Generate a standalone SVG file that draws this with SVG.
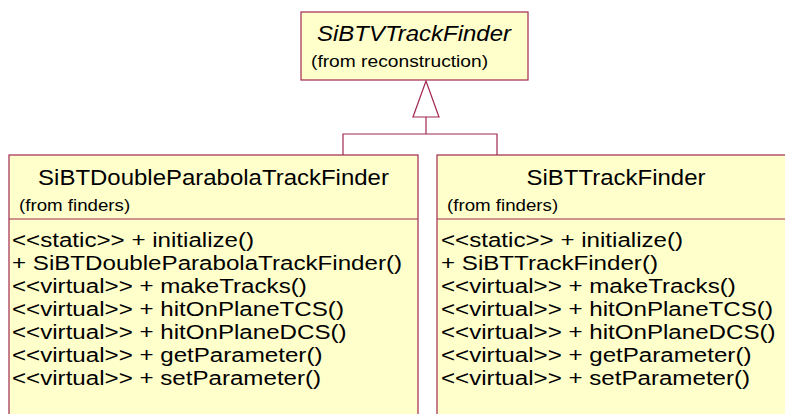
<svg xmlns="http://www.w3.org/2000/svg" width="785" height="414" viewBox="0 0 785 414">
<style>
.box{fill:#FFFFCC;stroke:#A0284E;stroke-width:1.2}
.sep{stroke:#A0284E;stroke-width:1.2}
.conn{fill:none;stroke:#A0284E;stroke-width:1.2}
text{font-family:"Liberation Sans",Arial,sans-serif;fill:#000}
.title{font-size:22px;text-anchor:middle}
.it{font-style:italic}
.from{font-size:17px}
.mem{font-size:21px}
</style>
<rect width="785" height="414" fill="#FFFFFF"/>
<g id="connectors">
<polygon class="conn" points="426,81 413,117 439,117" fill="#FFFFFF"/>
<polyline class="conn" points="426,117 426,134"/>
<polyline class="conn" points="343,155 343,134 497,134 497,155"/>
</g>
<g id="SiBTVTrackFinder">
<rect class="box" x="301" y="12" width="227" height="68"/>
<text class="title it" transform="translate(414,41) scale(1.09,1)">SiBTVTrackFinder</text>
<text class="from" transform="translate(311,67) scale(1.13,1)">(from reconstruction)</text>
</g>
<g id="SiBTDoubleParabolaTrackFinder">
<rect class="box" x="9" y="155" width="409" height="270"/>
<line class="sep" x1="9" y1="219" x2="418" y2="219"/>
<text class="title" transform="translate(213.5,185) scale(1.09,1)">SiBTDoubleParabolaTrackFinder</text>
<text class="from" transform="translate(19,211) scale(1.1,1)">(from finders)</text>
<text class="mem" transform="translate(12,247) scale(1.15,1)">&lt;&lt;static&gt;&gt; + initialize()</text>
<text class="mem" transform="translate(12,270) scale(1.15,1)">+ SiBTDoubleParabolaTrackFinder()</text>
<text class="mem" transform="translate(12,293) scale(1.15,1)">&lt;&lt;virtual&gt;&gt; + makeTracks()</text>
<text class="mem" transform="translate(12,316) scale(1.15,1)">&lt;&lt;virtual&gt;&gt; + hitOnPlaneTCS()</text>
<text class="mem" transform="translate(12,339) scale(1.15,1)">&lt;&lt;virtual&gt;&gt; + hitOnPlaneDCS()</text>
<text class="mem" transform="translate(12,362) scale(1.15,1)">&lt;&lt;virtual&gt;&gt; + getParameter()</text>
<text class="mem" transform="translate(12,385) scale(1.15,1)">&lt;&lt;virtual&gt;&gt; + setParameter()</text>
</g>
<g id="SiBTTrackFinder">
<rect class="box" x="437" y="155" width="360" height="270"/>
<line class="sep" x1="437" y1="219" x2="797" y2="219"/>
<text class="title" transform="translate(616,185) scale(1.09,1)">SiBTTrackFinder</text>
<text class="from" transform="translate(447,211) scale(1.1,1)">(from finders)</text>
<text class="mem" transform="translate(441,247) scale(1.15,1)">&lt;&lt;static&gt;&gt; + initialize()</text>
<text class="mem" transform="translate(441,270) scale(1.15,1)">+ SiBTTrackFinder()</text>
<text class="mem" transform="translate(441,293) scale(1.15,1)">&lt;&lt;virtual&gt;&gt; + makeTracks()</text>
<text class="mem" transform="translate(441,316) scale(1.15,1)">&lt;&lt;virtual&gt;&gt; + hitOnPlaneTCS()</text>
<text class="mem" transform="translate(441,339) scale(1.15,1)">&lt;&lt;virtual&gt;&gt; + hitOnPlaneDCS()</text>
<text class="mem" transform="translate(441,362) scale(1.15,1)">&lt;&lt;virtual&gt;&gt; + getParameter()</text>
<text class="mem" transform="translate(441,385) scale(1.15,1)">&lt;&lt;virtual&gt;&gt; + setParameter()</text>
</g>
</svg>
